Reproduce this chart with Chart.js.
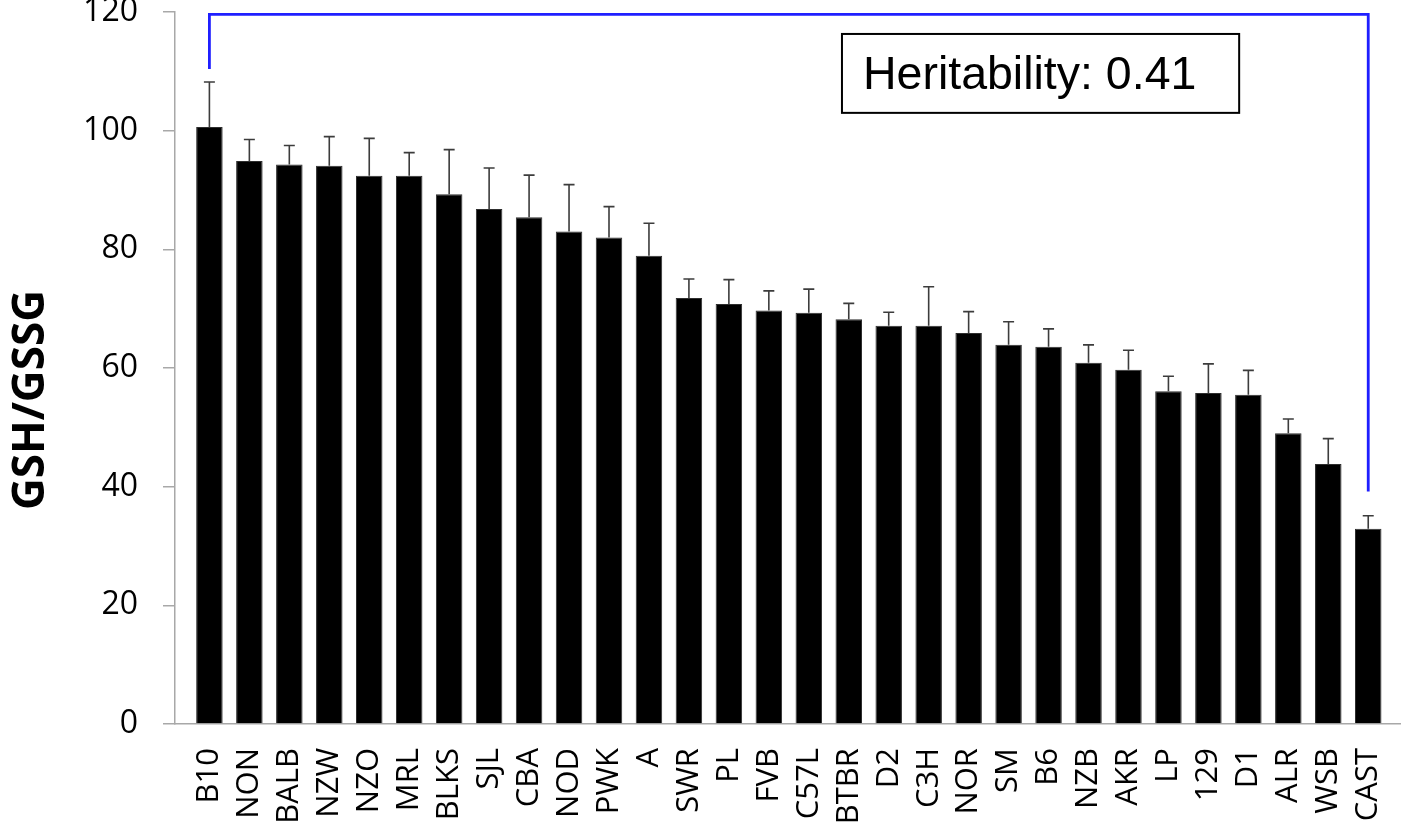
<!DOCTYPE html>
<html>
<head>
<meta charset="utf-8">
<script src="https://cdn.jsdelivr.net/npm/chart.js@4.4.0/dist/chart.umd.min.js"></script>
<style>
  html, body { margin: 0; padding: 0; background: #ffffff; }
  #wrap { width: 1401px; height: 825px; position: relative; }
</style>
</head>
<body>
<div id="wrap"><canvas id="c" width="1401" height="825"></canvas></div>
<script>
// ---- data ----
const strains = ['B10','NON','BALB','NZW','NZO','MRL','BLKS','SJL','CBA','NOD','PWK','A','SWR','PL','FVB','C57L','BTBR','D2','C3H','NOR','SM','B6','NZB','AKR','LP','129','D1','ALR','WSB','CAST'];
const ratioValues = [100.6,94.9,94.3,94.1,92.4,92.4,89.3,86.8,85.4,83.0,82.0,78.9,71.8,70.8,69.7,69.3,68.2,67.1,67.1,65.9,63.9,63.6,60.9,59.7,56.1,55.8,55.5,49.0,43.8,32.9];
const ratioErrors = [7.6,3.6,3.2,4.9,6.3,3.9,7.5,6.9,7.1,7.9,5.2,5.5,3.2,4.1,3.3,4.0,2.7,2.3,6.6,3.6,3.9,3.0,3.0,3.3,2.5,4.9,4.1,2.4,4.3,2.2];
const yTicks = [0,20,40,60,80,100,120];
const yTitle = 'GSH/GSSG';
const heritabilityText = 'Heritability: 0.41';

// ---- annotation placement (in axis units) ----
const bracket = { top: 119.6, leftBottom: 110.4, rightBottom: 39.2 };
const hbox = { x0: 15.83, x1: 25.77, yTop: 116.3, yBottom: 103.0, textBaseline: 107.1 };

const points = strains.map((s, i) => ({ x: i, y: ratioValues[i] }));

const errorBarPlugin = {
  id: 'errorBars',
  afterDatasetsDraw(chart) {
    const ctx = chart.ctx;
    const meta = chart.getDatasetMeta(0);
    const ys = chart.scales.y;
    ctx.save();
    ctx.strokeStyle = '#3c3c3c';
    ctx.lineWidth = 1.6;
    meta.data.forEach((bar, i) => {
      const yTop = ys.getPixelForValue(ratioValues[i] + ratioErrors[i]);
      const yBase = bar.y;
      ctx.beginPath();
      ctx.moveTo(bar.x, yBase);
      ctx.lineTo(bar.x, yTop);
      ctx.moveTo(bar.x - 5.5, yTop);
      ctx.lineTo(bar.x + 5.5, yTop);
      ctx.stroke();
    });
    ctx.restore();
  }
};

const annotationPlugin = {
  id: 'annotations',
  afterDraw(chart) {
    const ctx = chart.ctx;
    const xs = chart.scales.x, ys = chart.scales.y;
    ctx.save();
    // blue bracket
    const xl = xs.getPixelForValue(0), xr = xs.getPixelForValue(strains.length - 1);
    ctx.strokeStyle = '#1f1fff';
    ctx.lineWidth = 2.8;
    ctx.lineJoin = 'miter';
    ctx.beginPath();
    ctx.moveTo(xl, ys.getPixelForValue(bracket.leftBottom));
    ctx.lineTo(xl, ys.getPixelForValue(bracket.top));
    ctx.lineTo(xr, ys.getPixelForValue(bracket.top));
    ctx.lineTo(xr, ys.getPixelForValue(bracket.rightBottom));
    ctx.stroke();
    // heritability box
    const bx0 = xs.getPixelForValue(hbox.x0), bx1 = xs.getPixelForValue(hbox.x1);
    const by0 = ys.getPixelForValue(hbox.yTop), by1 = ys.getPixelForValue(hbox.yBottom);
    ctx.fillStyle = '#ffffff';
    ctx.fillRect(bx0, by0, bx1 - bx0, by1 - by0);
    ctx.strokeStyle = '#000000';
    ctx.lineWidth = 2;
    ctx.strokeRect(bx0, by0, bx1 - bx0, by1 - by0);
    ctx.fillStyle = '#000000';
    ctx.font = '46.5px "Liberation Sans", Arial, sans-serif';
    ctx.textAlign = 'left';
    ctx.textBaseline = 'alphabetic';
    ctx.fillText(heritabilityText, bx0 + 21, ys.getPixelForValue(hbox.textBaseline));
    // y axis title
    const cy = (ys.getPixelForValue(yTicks[0]) + ys.getPixelForValue(yTicks[yTicks.length - 1])) / 2 + 32;
    ctx.translate(44, cy);
    ctx.rotate(-Math.PI / 2);
    ctx.font = 'bold 44px "Open Sans", sans-serif';
    ctx.textAlign = 'center';
    ctx.fillText(yTitle, 0, 0);
    ctx.restore();
  }
};

new Chart(document.getElementById('c'), {
  type: 'bar',
  data: {
    datasets: [{
      data: points,
      backgroundColor: '#000000',
      borderColor: '#2e2e2e',
      borderWidth: 1,
      categoryPercentage: 1.0,
      barPercentage: 0.663
    }]
  },
  options: {
    responsive: false,
    animation: false,
    events: [],
    layout: { padding: { left: 0, right: 0, top: 0, bottom: 0 } },
    plugins: { legend: { display: false }, tooltip: { enabled: false }, title: { display: false } },
    scales: {
      x: {
        type: 'linear',
        min: -0.861,
        max: 29.82,
        offset: false,
        grid: { display: false, drawTicks: false },
        border: { display: true, color: '#a8a8a8', width: 1.5 },
        ticks: {
          stepSize: 1,
          includeBounds: false,
          autoSkip: false,
          maxRotation: 90,
          minRotation: 90,
          padding: 24,
          color: '#000000',
          font: { family: '"Open Sans", sans-serif', size: 31 },
          callback: (v) => (Number.isInteger(v) && strains[v] !== undefined) ? strains[v] : ''
        },
        afterFit: (scale) => { scale.height = 101; scale.paddingLeft = 0; scale.paddingRight = 0; }
      },
      y: {
        min: yTicks[0],
        max: yTicks[yTicks.length - 1],
        grid: { drawOnChartArea: false, drawTicks: true, tickLength: 12, color: '#a8a8a8', lineWidth: 1.5 },
        border: { display: true, color: '#a8a8a8', width: 1.5 },
        afterBuildTicks: (scale) => { scale.ticks = yTicks.map(v => ({ value: v })); },
        ticks: {
          padding: 25,
          color: '#000000',
          font: { family: '"Open Sans", sans-serif', size: 32, lineHeight: 0.75 }
        },
        afterFit: (scale) => { scale.width = 175; scale.paddingTop = 12; scale.paddingBottom = 0; }
      }
    }
  },
  plugins: [errorBarPlugin, annotationPlugin]
});
</script>
</body>
</html>
